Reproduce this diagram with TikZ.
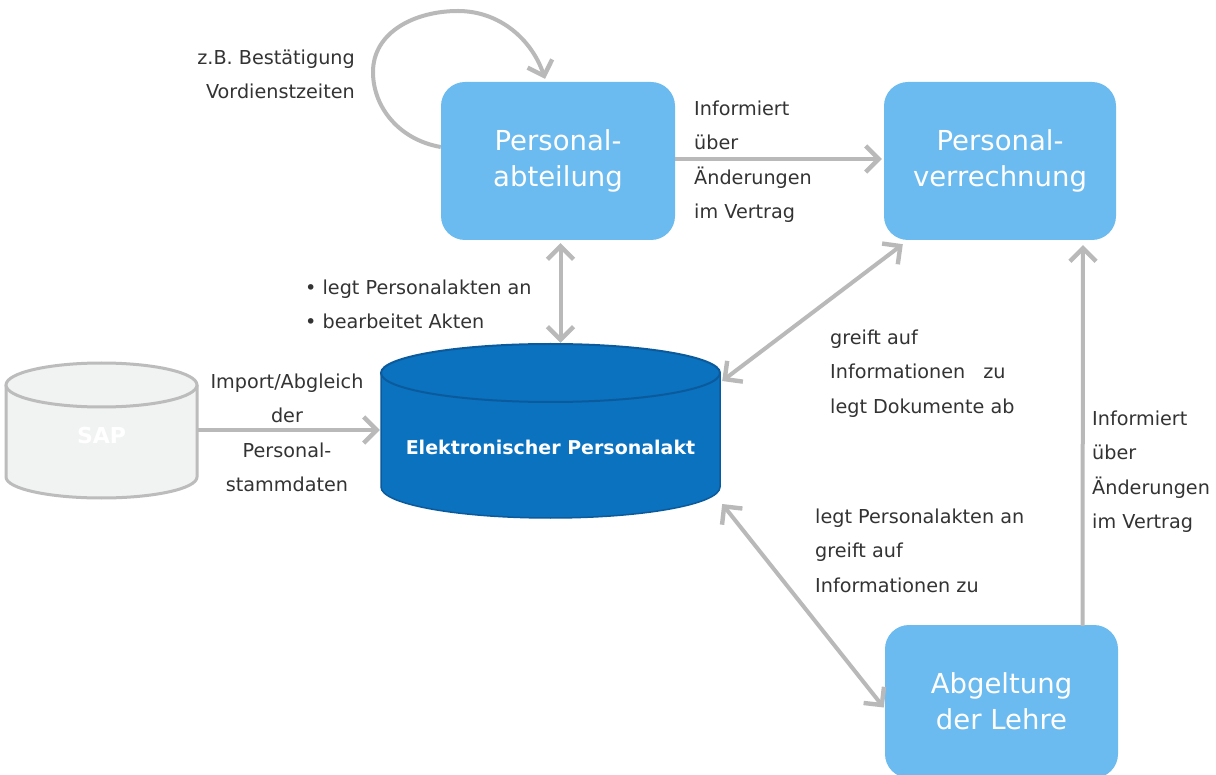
\documentclass[tikz,border=0pt]{standalone}
\usepackage{fontspec}
\setmainfont{DejaVu Sans}
\usetikzlibrary{arrows.meta}
\definecolor{boxblue}{HTML}{6CBBF0}
\definecolor{dbblue}{HTML}{0B72C0}
\definecolor{dbedge}{HTML}{0A5A9C}
\definecolor{sapfill}{HTML}{F1F2F2}
\definecolor{sapedge}{HTML}{BCBCBC}
\definecolor{arrowgray}{HTML}{B9B9B9}
\definecolor{txt}{HTML}{333333}
\tikzset{
  x=1pt,y=-1pt,
  procbox/.style={draw=none,fill=boxblue,rounded corners=24pt,minimum width=234pt,minimum height=158pt,inner sep=0pt,
    align=center,text=white,font=\fontsize{27.5}{36}\selectfont},
  dbnode/.style={inner sep=0pt,align=center},
  lbl/.style={inner sep=0pt,text=txt,font=\fontsize{19.2}{34.2}\selectfont,anchor=north west,align=left},
  conn/.style={draw=arrowgray,line width=4pt,-{Straight Barb[length=13pt,width=26pt,line width=4.4pt]}},
  bidir/.style={draw=arrowgray,line width=4pt,{Straight Barb[length=13pt,width=26pt,line width=4.4pt]}-{Straight Barb[length=13pt,width=26pt,line width=4.4pt]}}
}
\begin{document}
\begin{tikzpicture}
\useasboundingbox (0,0) rectangle (1216,775);
\fill[white] (0,0) rectangle (1216,775);
% SAP cylinder
\draw[fill=sapfill,draw=sapedge,line width=3pt] (6,385) -- (6,477) arc[start angle=180,end angle=360,x radius=95.5pt,y radius=21pt] -- (197,385);
\draw[fill=sapfill,draw=sapedge,line width=3pt] (101.5,385) ellipse[x radius=95.5pt,y radius=22pt];
% EPA cylinder
\draw[fill=dbblue,draw=dbedge,line width=1.5pt] (381,373) -- (381,487) arc[start angle=180,end angle=360,x radius=169.5pt,y radius=31pt] -- (720,373);
\draw[fill=dbblue,draw=dbedge,line width=2pt] (550.5,373) ellipse[x radius=169.5pt,y radius=29pt];
% nodes
\node[procbox] (pa) at (558,161) {\raisebox{-3pt}{Personal-}\\\raisebox{-3pt}{abteilung}};
\node[procbox,minimum width=232pt] (pv) at (1000,161) {\raisebox{-3pt}{Personal-}\\\raisebox{-3pt}{verrechnung}};
\node[procbox,minimum width=233pt,minimum height=153pt] (ab) at (1001.5,701.5) {\raisebox{-3pt}{Abgeltung}\\\raisebox{-3pt}{der Lehre}};
\node[dbnode,minimum width=192pt,minimum height=136pt,text=white,font=\bfseries\fontsize{22}{24}\selectfont] (sap) at (101.5,430) {\raisebox{-14pt}[0pt][0pt]{SAP}};
\node[dbnode,minimum width=339pt,minimum height=174pt,text=white,font=\bfseries\fontsize{19}{24}\selectfont] (epa) at (550.5,431) {\raisebox{-24pt}[0pt][0pt]{Elektronischer Personalakt}};
% connectors
\draw[conn] ([yshift=14pt]pa.west) .. controls (400,140) and (373,108) .. (373,72) .. controls (373,32) and (415,11) .. (458,11) .. controls (500,11) and (532,40) .. ([xshift=-13pt,yshift=3pt]pa.north);
\draw[conn] ([yshift=2pt]pa.east) -- ([xshift=-2pt,yshift=2pt]pv.west);
\draw[bidir] ([xshift=2.5pt,yshift=-3pt]pa.south) -- ([xshift=10pt,yshift=1pt]epa.north);
\draw[conn] (sap.east) -- ([xshift=-1pt,yshift=1pt]epa.west);
\draw[bidir] ([xshift=2pt,yshift=50pt]epa.east) -- ([xshift=19pt,yshift=-4pt]pv.south west);
\draw[bidir] ([xshift=2pt,yshift=-73pt]epa.east) -- ([xshift=-1pt,yshift=-6pt]ab.west);
\draw[conn] ([xshift=81pt,yshift=-1pt]ab.north) -- ([xshift=83pt,yshift=-5pt]pv.south);
% labels
\node[lbl,align=right,anchor=north east] (l1) at (355,50) {z.B. Bestätigung\\Vordienstzeiten};
\node[lbl] (l2) at (694,101) {Informiert\\über\\Änderungen\\im Vertrag};
\node[lbl] (l3) at (305,280) {• legt Personalakten an\\• bearbeitet Akten};
\node[lbl,align=center,anchor=north] (l4) at (287,374) {Import/Abgleich\\der\\Personal-\\stammdaten};
\node[lbl] (l5) at (830,330) {greift auf\\Informationen\hspace{18pt}zu\\legt Dokumente ab};
\node[lbl] (l6) at (1092,411) {Informiert\\über\\Änderungen\\im Vertrag};
\node[lbl] (l7) at (815,509) {legt Personalakten an\\greift auf\\Informationen zu};
\end{tikzpicture}
\end{document}
